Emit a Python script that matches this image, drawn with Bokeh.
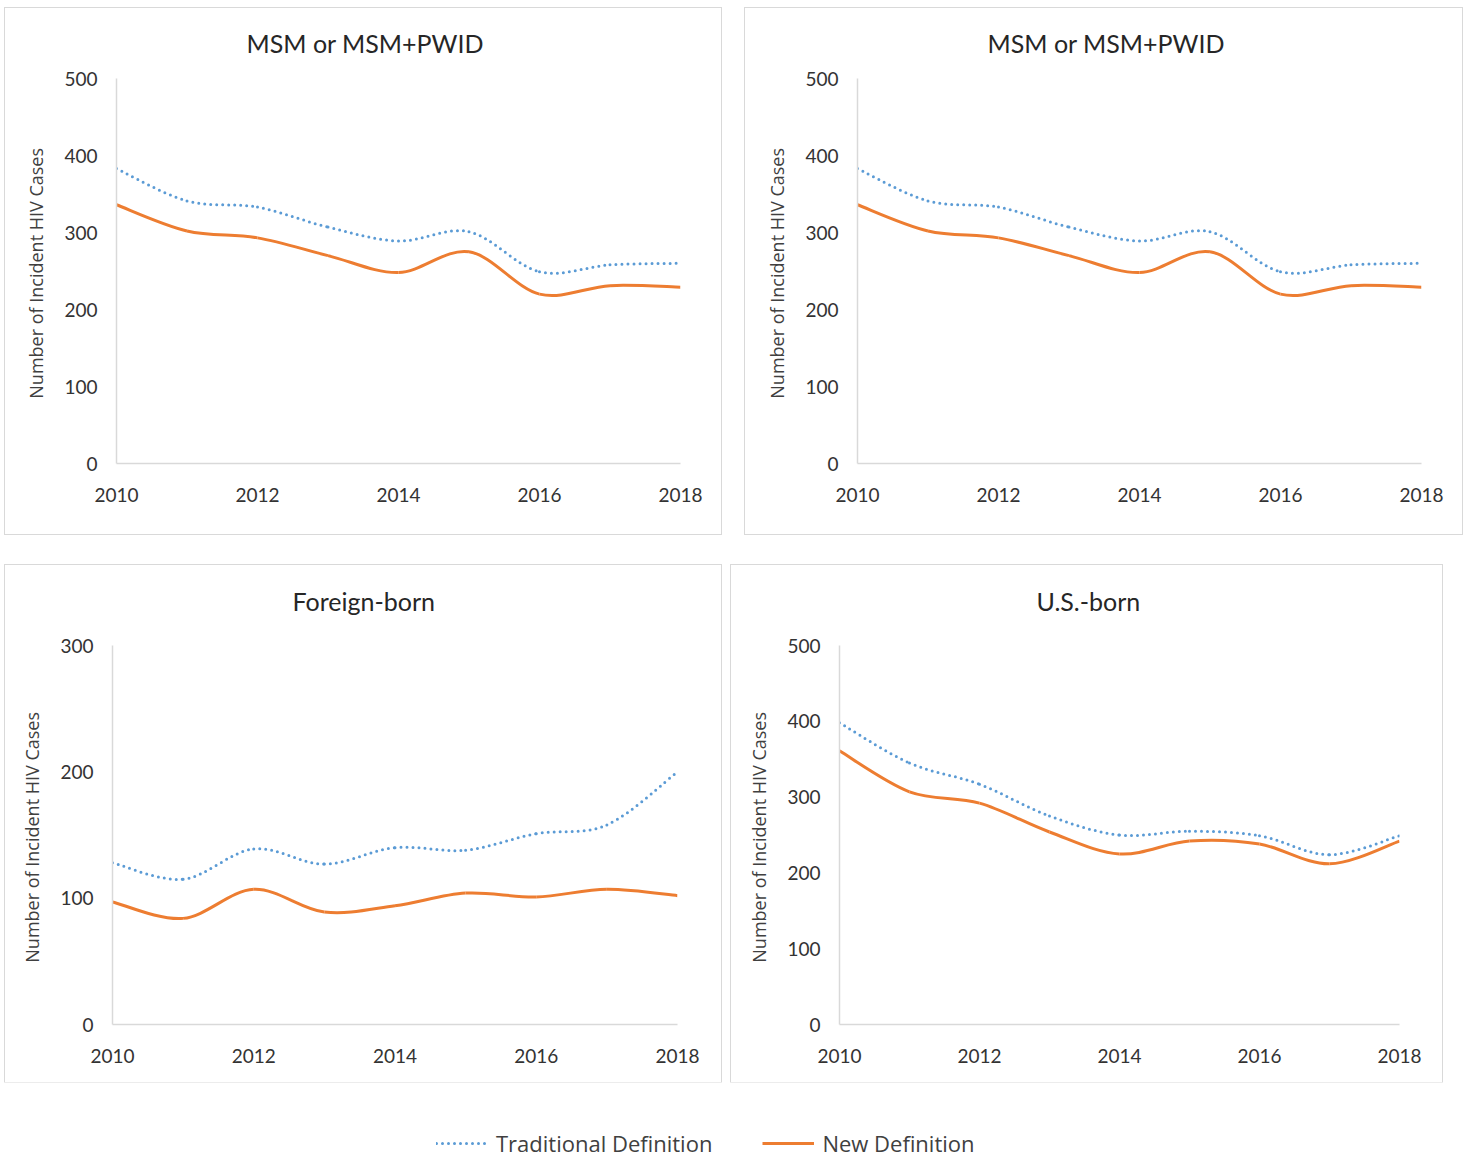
from bokeh.plotting import figure
from bokeh.models import Range1d, FixedTicker, Legend, LegendItem, Spacer, Title
from bokeh.layouts import column, row
from bokeh.embed import file_html
from bokeh.resources import INLINE

# ---------------- data ----------------
years = [2010, 2011, 2012, 2013, 2014, 2015, 2016, 2017, 2018]
x_ticks = [2010, 2012, 2014, 2016, 2018]

msm_traditional = [383, 341, 333, 307, 289, 301, 249, 258, 260]
msm_new = [336, 302, 293, 270, 248, 275, 220, 231, 229]

fb_traditional = [128, 115, 139, 127, 140, 138, 151, 158, 200]
fb_new = [97, 84, 107, 89, 94, 104, 101, 107, 102]

us_traditional = [398, 345, 317, 275, 250, 255, 249, 224, 249]
us_new = [361, 307, 292, 254, 225, 242, 238, 212, 242]

titles = ["MSM or MSM+PWID", "MSM or MSM+PWID", "Foreign-born", "U.S.-born"]
y_label = "Number  of Incident HIV Cases"
legend_labels = ["Traditional Definition", "New Definition"]

FONT = "Lato"
BLUE = "#5B9BD5"
ORANGE = "#ED7D31"
GRAY = "#d9d9d9"
TXT = "#333333"


def bezier_segments(xs, ys):
    """Smooth (Catmull-Rom style) bezier segments through the data points."""
    px = [xs[0]] + list(xs) + [xs[-1]]
    py = [ys[0]] + list(ys) + [ys[-1]]
    d = dict(x0=[], y0=[], x1=[], y1=[], cx0=[], cy0=[], cx1=[], cy1=[])
    for i in range(len(xs) - 1):
        a, b, c, e = i, i + 1, i + 2, i + 3
        d["x0"].append(px[b]); d["y0"].append(py[b])
        d["x1"].append(px[c]); d["y1"].append(py[c])
        d["cx0"].append(px[b] + (px[c] - px[a]) / 6.0)
        d["cy0"].append(py[b] + (py[c] - py[a]) / 6.0)
        d["cx1"].append(px[c] - (px[e] - px[b]) / 6.0)
        d["cy1"].append(py[c] - (py[e] - py[b]) / 6.0)
    return d


def make_panel(title, trad, new, ymax, width, height, lb, rb, tb, bb, toff, gap_font):
    p = figure(width=width, height=height, output_backend="svg",
               toolbar_location=None, x_range=Range1d(2010, 2018),
               y_range=Range1d(0, ymax), min_border_left=lb,
               min_border_right=rb, min_border_top=tb, min_border_bottom=bb,
               title=None)
    # empty spacer title next to the frame, then the real title above it
    p.add_layout(Title(text=" ", text_font_size=gap_font, standoff=0), "above")
    p.add_layout(Title(text=title, text_font=FONT, text_font_size="25px",
                       text_font_style="normal", text_color="#262626",
                       align="left", offset=toff, standoff=34), "above")
    p.outline_line_color = None
    p.xgrid.visible = False
    p.ygrid.visible = False
    # panel border
    p.styles = {"box-shadow": "0 0 0 1px #d9d9d9"}

    p.xaxis.ticker = FixedTicker(ticks=x_ticks)
    p.yaxis.ticker = FixedTicker(ticks=list(range(0, ymax + 1, 100)))
    for ax in (p.xaxis[0], p.yaxis[0]):
        ax.axis_line_color = GRAY
        ax.axis_line_width = 1.5
        ax.major_tick_line_color = None
        ax.minor_tick_line_color = None
        ax.major_tick_in = 0
        ax.major_tick_out = 0
        ax.minor_tick_in = 0
        ax.minor_tick_out = 0
        ax.major_label_text_font = FONT
        ax.major_label_text_font_size = "19px"
        ax.major_label_text_color = TXT
    p.yaxis.major_label_standoff = 19
    p.xaxis.major_label_standoff = 24
    p.yaxis.axis_label = y_label
    p.yaxis.axis_label_text_font = "Open Sans"
    p.yaxis.axis_label_text_font_size = "18px"
    p.yaxis.axis_label_text_font_style = "normal"
    p.yaxis.axis_label_text_color = "#404040"
    p.yaxis.axis_label_standoff = 13

    p.bezier(**bezier_segments(years, trad), line_color=BLUE,
             line_width=3, line_dash="0 6", line_cap="round")
    p.bezier(**bezier_segments(years, new), line_color=ORANGE, line_width=3)
    return p


p1 = make_panel(titles[0], msm_traditional, msm_new, 500, 716, 526, 111, 41, 70, 71, 130, "2px")
p2 = make_panel(titles[1], msm_traditional, msm_new, 500, 717, 526, 112, 41, 70, 71, 130, "2px")
p3 = make_panel(titles[2], fb_traditional, fb_new, 300, 716, 517, 107, 44, 80, 58, 180, "10px")
p4 = make_panel(titles[3], us_traditional, us_new, 500, 711, 517, 108, 43, 80, 58, 197, "10px")

# legend strip
lf = figure(width=1460, height=76, output_backend="svg", toolbar_location=None,
            x_range=Range1d(0, 1), y_range=Range1d(0, 1), min_border=0,
            x_axis_type=None, y_axis_type=None)
lf.outline_line_color = None
lf.xgrid.visible = False
lf.ygrid.visible = False
nan = float("nan")
r1 = lf.line(x=[nan], y=[nan], line_color=BLUE, line_width=3, line_dash="0 6", line_cap="round")
r2 = lf.line(x=[nan], y=[nan], line_color=ORANGE, line_width=3)
leg = Legend(items=[LegendItem(label=legend_labels[0], renderers=[r1]),
                    LegendItem(label=legend_labels[1], renderers=[r2])],
             orientation="horizontal", location=(436, 0))
leg.glyph_width = 52
leg.glyph_height = 22
leg.label_standoff = 8
leg.spacing = 50
leg.padding = 0
leg.margin = 0
leg.border_line_color = None
leg.background_fill_alpha = 0
leg.label_text_font = "Open Sans"
leg.label_text_font_size = "22px"
leg.label_text_color = "#404040"
lf.add_layout(leg, "center")

top = row(Spacer(width=5), row(p1, p2, spacing=24))
bottom = row(Spacer(width=5), row(p3, p4, spacing=10))
layout = column(Spacer(height=8), top, Spacer(height=31), bottom, lf)

open("out.html", "w").write(file_html(layout, INLINE))
